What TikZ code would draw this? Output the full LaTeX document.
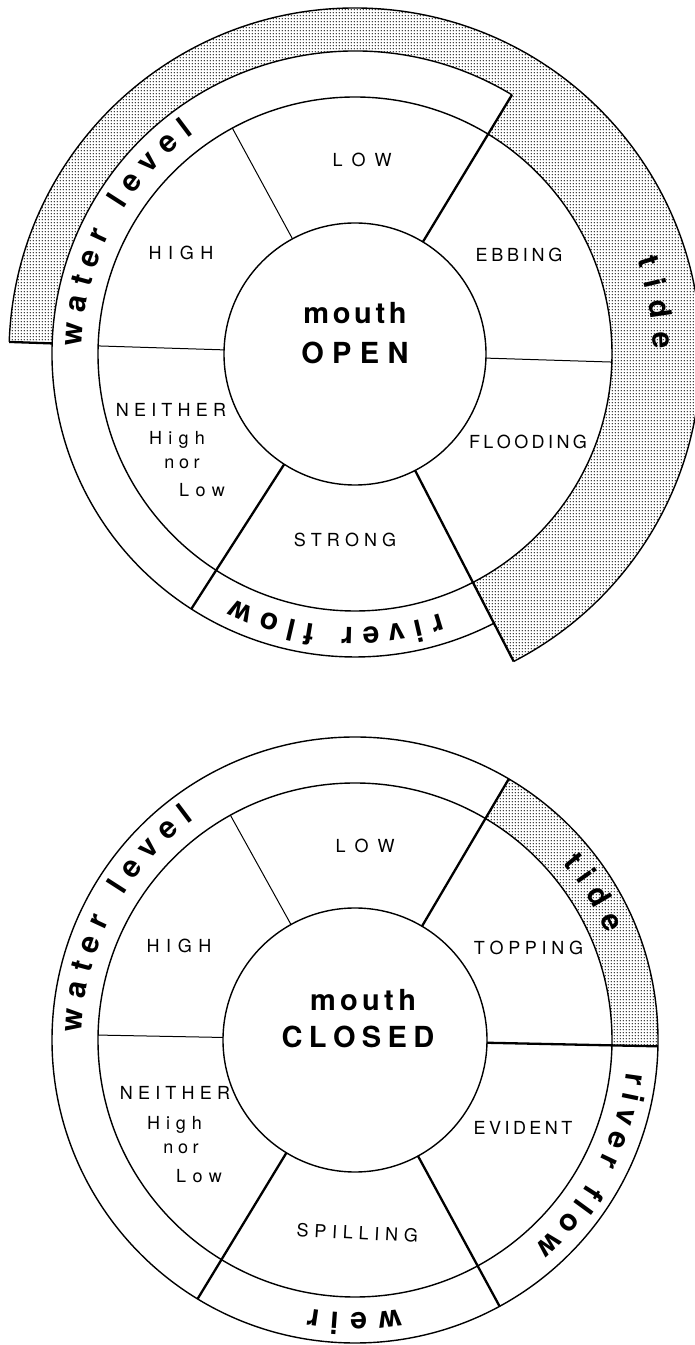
\documentclass[tikz,border=0pt]{standalone}
\usepackage{fontspec}
\setmainfont{TeX Gyre Heros}
\usetikzlibrary{patterns,decorations.text}
\pgfdeclarepatternformonly{mydots}{\pgfqpoint{-1.6pt}{-1.6pt}}{\pgfqpoint{1.6pt}{1.6pt}}{\pgfqpoint{3.2pt}{3.2pt}}{\pgfpathcircle{\pgfqpoint{0pt}{0pt}}{0.75pt}\pgfusepath{fill}}
\newcommand\bandsz{\fontsize{30}{32}\selectfont\bfseries}
% letter-spaced text: \spreadtxt{gap}{WORD}
\newcommand\spreadtxt[2]{\def\sptkern{\kern#1}\spreadaux#2\relax}
\def\spreadaux#1{\ifx#1\relax\else#1\expandafter\spreadmore\fi}
\def\spreadmore#1{\ifx#1\relax\else\sptkern#1\expandafter\spreadmore\fi}
\begin{document}
\begin{tikzpicture}[x=1pt,y=1pt,
  ring/.style={line width=1.4pt},
  thindiv/.style={line width=1pt},
  thickdiv/.style={line width=2.3pt},
  sect/.style={font=\fontsize{18}{20}\selectfont, inner sep=0pt, anchor=base},
  ctr/.style={font=\fontsize{29}{32}\selectfont\bfseries, inner sep=0pt, anchor=base},
  dotarea/.style={pattern=mydots, pattern color=black},
  band/.style={decorate, decoration={text along path, text align={fit to path}, text={#1}}}
]
\useasboundingbox (0,0) rectangle (695,1345);
\fill[white] (0,0) rectangle (695,1345);

% ---------------- top diagram ----------------
\begin{scope}[shift={(355pt,991pt)}]
  \fill[dotarea] (178:303pt) -- (178:346pt)
     arc[start angle=178, end angle=-62.7, radius=346pt]
     -- (-62.7:257pt) arc[start angle=-62.7, end angle=58.8, radius=257pt]
     -- (58.8:303pt) arc[start angle=58.8, end angle=178, radius=303pt] -- cycle;
  \draw[ring] (0,0) circle[radius=131pt];
  \draw[ring] (0,0) circle[radius=257pt];
  \draw[ring] (58.8:303pt) arc[start angle=58.8, end angle=297.3, radius=303pt];
  \draw[ring] (178:346pt) arc[start angle=178, end angle=-62.7, radius=346pt];
  \draw[thickdiv] (178:303pt) -- (178:346pt);
  \draw[thindiv] (118.5:131pt) -- (118.5:257pt);
  \draw[thindiv] (178.2:131pt) -- (178.2:257pt);
  \draw[thindiv] (-1.8:131pt) -- (-1.8:257pt);
  \draw[thickdiv] (58.8:131pt) -- (58.8:303pt);
  \draw[thickdiv] (237.3:131pt) -- (237.3:303pt);
  \draw[thickdiv] (-62.7:131pt) -- (-62.7:346pt);
  \path[band={|\bandsz|water level}] (178.4:273pt) arc[start angle=178.4, end angle=126.1, radius=273pt];
  \path[band={|\bandsz|river flow}] (-71.8:273pt) arc[start angle=-71.8, end angle=-116.4, radius=273pt];
  \path[band={|\bandsz|tide}] (18.5:298pt) arc[start angle=18.5, end angle=1, radius=298pt];
\end{scope}
\node[sect] (tLow) at (362,1178.5) {\spreadtxt{0.5em}{LOW}};
\node[sect] (tHigh) at (181,1085.5) {\spreadtxt{0.37em}{HIGH}};
\node[sect] (tEbb) at (519,1083.5) {\spreadtxt{0.21em}{EBBING}};
\node[sect] (tFlood) at (528,896.5) {\spreadtxt{0.19em}{FLOODING}};
\node[sect] (tStrong) at (345,798.5) {\spreadtxt{0.28em}{STRONG}};
\node[sect] (tN1) at (171,928.5) {\spreadtxt{0.29em}{NEITHER}};
\node[sect] (tN2) at (177,900.5) {\spreadtxt{0.35em}{High}};
\node[sect] (tN3) at (182,876) {\spreadtxt{0.25em}{nor}};
\node[sect] (tN4) at (202,848.5) {\spreadtxt{0.36em}{Low}};
\node[ctr] (tMouth) at (355,1021) {\spreadtxt{0.125em}{mouth}};
\node[ctr] (tOpen) at (355,981) {\spreadtxt{0.29em}{OPEN}};

% ---------------- bottom diagram ----------------
\begin{scope}[shift={(355pt,305pt)}]
  \fill[dotarea] (59.5:257pt) -- (59.5:303pt)
     arc[start angle=59.5, end angle=-1.2, radius=303pt]
     -- (-1.2:257pt) arc[start angle=-1.2, end angle=59.5, radius=257pt] -- cycle;
  \draw[ring] (0,0) circle[radius=132pt];
  \draw[ring] (0,0) circle[radius=257pt];
  \draw[ring] (0,0) circle[radius=303pt];
  \draw[thindiv] (119:132pt) -- (119:257pt);
  \draw[thindiv] (178.9:132pt) -- (178.9:257pt);
  \draw[thickdiv] (59.5:132pt) -- (59.5:303pt);
  \draw[thickdiv] (-1.2:132pt) -- (-1.2:303pt);
  \draw[thickdiv] (-61.5:132pt) -- (-61.5:303pt);
  \draw[thickdiv] (238.7:132pt) -- (238.7:303pt);
  \path[band={|\bandsz|water level}] (178.4:273pt) arc[start angle=178.4, end angle=126.1, radius=273pt];
  \path[band={|\bandsz|tide}] (40.4:273pt) arc[start angle=40.4, end angle=22.9, radius=273pt];
  \path[band={|\bandsz|river flow}] (-6.8:273pt) arc[start angle=-6.8, end angle=-49, radius=273pt];
  \path[band={|\bandsz|weir}] (-80.4:273pt) arc[start angle=-80.4, end angle=-99.8, radius=273pt];
\end{scope}
\node[sect] (bLow) at (365,492.5) {\spreadtxt{0.5em}{LOW}};
\node[sect] (bHigh) at (179,392.5) {\spreadtxt{0.37em}{HIGH}};
\node[sect] (bTop) at (528.5,390.5) {\spreadtxt{0.26em}{TOPPING}};
\node[sect] (bEvid) at (523,210.5) {\spreadtxt{0.19em}{EVIDENT}};
\node[sect, rotate=-3] (bSpill) at (357,105.5) {\spreadtxt{0.32em}{SPILLING}};
\node[sect] (bN1) at (175,245.5) {\spreadtxt{0.29em}{NEITHER}};
\node[sect] (bN2) at (174.5,215.5) {\spreadtxt{0.33em}{High}};
\node[sect] (bN3) at (181,191) {\spreadtxt{0.25em}{nor}};
\node[sect] (bN4) at (199,162.5) {\spreadtxt{0.36em}{Low}};
\node[ctr] (bMouth) at (363,334) {\spreadtxt{0.15em}{mouth}};
\node[ctr] (bClosed) at (358,297) {\spreadtxt{0.22em}{CLOSED}};
\end{tikzpicture}
\end{document}
